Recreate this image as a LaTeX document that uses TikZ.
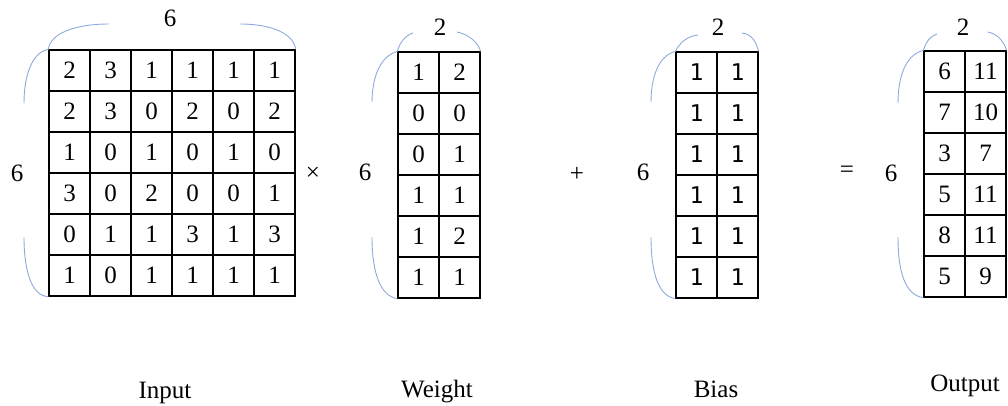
\documentclass[tikz,border=0pt]{standalone}
\usepackage{fontspec}
\setmainfont{Liberation Serif}
\newfontfamily\monofont{DejaVu Sans Mono}
\definecolor{bracecol}{HTML}{8FAADC}
\tikzset{
  cell/.style={draw, minimum size=41pt, inner sep=0pt, line width=1.3pt},
  brace/.style={draw=bracecol, line width=0.9pt},
}

\begin{document}
\begin{tikzpicture}[x=1pt, y=-1pt, font=\fontsize{25}{30}\selectfont]
\useasboundingbox (0,0) rectangle (1008,405);

% input, 6 x 6
\begin{scope}[shift={(49,50)}]
\foreach \row [count=\r] in {{2,3,1,1,1,1},{2,3,0,2,0,2},{1,0,1,0,1,0},{3,0,2,0,0,1},{0,1,1,3,1,3},{1,0,1,1,1,1}}
  \foreach \v [count=\c] in \row
    \node[cell] (in-\r-\c) at ({41*\c-20.5},{41*\r-20.5}) {\v};
\end{scope}

% weight, 6 x 2
\begin{scope}[shift={(398,52)}]
\foreach \row [count=\r] in {{1,2},{0,0},{0,1},{1,1},{1,2},{1,1}}
  \foreach \v [count=\c] in \row
    \node[cell] (w-\r-\c) at ({41*\c-20.5},{41*\r-20.5}) {\v};
\end{scope}

% bias, 6 x 2
\begin{scope}[shift={(676,52)}]
\foreach \r in {1,...,6}
  \foreach \c in {1,2}
    \node[cell, font=\fontsize{23}{27}\monofont] (b-\r-\c) at ({41*\c-20.5},{41*\r-20.5}) {1};
\end{scope}

% output, 6 x 2
\begin{scope}[shift={(924,51)}]
\foreach \row [count=\r] in {{6,11},{7,10},{3,7},{5,11},{8,11},{5,9}}
  \foreach \v [count=\c] in \row
    \node[cell] (out-\r-\c) at ({41*\c-20.5},{41*\r-20.5}) {\v};
\end{scope}

% size braces
\draw[brace] (in-1-1.north west) .. controls (50,34) and (74,24) .. (109,24)
  (240,24) .. controls (272,24) and (294,34) .. (in-1-6.north east)
  (in-1-1.north west) .. controls (32,52) and (24,76) .. (24,103)
  (24,237) .. controls (24,272) and (32,296) .. (in-6-1.south west);
\draw[brace] (w-1-1.north west) .. controls (400,42) and (405,36) .. (413,33)
  (457,32) .. controls (468,34) and (478,42) .. (w-1-2.north east)
  (w-1-1.north west) .. controls (380,56) and (372,78) .. (372,102)
  (372,237) .. controls (372,272) and (380,296) .. (w-6-1.south west);
\draw[brace] (b-1-1.north west) .. controls (680,42) and (688,36) .. (698,35)
  (742,33) .. controls (752,34) and (756,42) .. (b-1-2.north east)
  (b-1-1.north west) .. controls (658,56) and (651,78) .. (651,102)
  (651,237) .. controls (651,272) and (658,296) .. (b-6-1.south west);
\draw[brace] (out-1-1.north west) .. controls (926,42) and (930,36) .. (937,34)
  (988,32) .. controls (998,34) and (1004,42) .. (out-1-2.north east)
  (out-1-1.north west) .. controls (905,55) and (898,78) .. (898,103)
  (898,237) .. controls (898,272) and (905,295) .. (out-6-1.south west);

% sizes
\node (in-cols) at (170,18) {6};
\node (in-rows) at (17,173) {6};
\node (w-cols) at (440,27) {2};
\node (w-rows) at (365,172) {6};
\node (b-cols) at (718,27) {2};
\node (b-rows) at (643,172) {6};
\node (out-cols) at (963,27) {2};
\node (out-rows) at (891,173) {6};

% operators
\node (times) at (313,174) {×};
\node (plus) at (577,174) {+};
\node (equals) at (847,172) {=};

% captions
\node[anchor=base] (in-lab) at (165,398) {Input};
\node[anchor=base] (w-lab) at (437,397) {Weight};
\node[anchor=base] (b-lab) at (716,397) {Bias};
\node[anchor=base] (out-lab) at (965,391) {Output};
\end{tikzpicture}
\end{document}
